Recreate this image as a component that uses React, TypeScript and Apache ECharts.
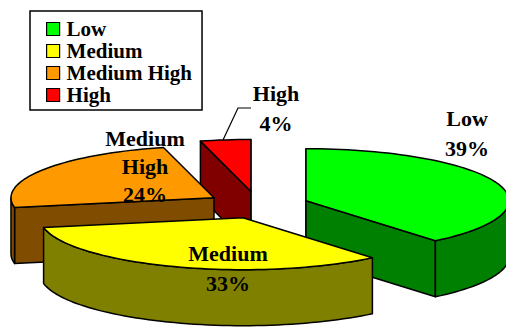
import React, { useEffect, useRef } from "react";
import * as echarts from "echarts";

// Share of each risk band, in percent.
const categories = ["Low", "Medium", "Medium High", "High"];
const shares = [39, 33, 24, 4];
const faceColors = ["#00FF00", "#FFFF00", "#FF9900", "#FF0000"];
const sideColors = ["#008000", "#808000", "#804D00", "#800000"];

// Projection of the tilted pie.
const CENTER_X = 257;
const CENTER_Y = 206;
const RADIUS_X = 203;
const RADIUS_Y = 52;
const EXPLODE_Y = 61;
const DEPTH = 56;
const OUTLINE = 1.5;
const explode = [0.2565, 0.2035, 0.251, 0.24];
const stackOrder = [1, 3, 2, 1];

// Label lines are anchored by hand around the pie.
const labelAnchors: [number, number][] = [
  [467, 133],
  [228, 268],
  [145, 166],
  [276, 108],
];

const FONT = "'Liberation Serif', 'Times New Roman', serif";
const total = shares.reduce((sum, v) => sum + v, 0);
const rad = (deg: number) => (deg * Math.PI) / 180;

function renderSlice(index: number) {
  return (_params: unknown, api: any) => {
    const before = shares.slice(0, index).reduce((sum, v) => sum + v, 0);
    const start = (before / total) * 360;
    const end = start + (api.value(0) / total) * 360;
    const mid = rad((start + end) / 2);
    const ax = CENTER_X + explode[index] * RADIUS_X * Math.sin(mid);
    const ay = CENTER_Y - explode[index] * EXPLODE_Y * Math.cos(mid);
    const rim = (deg: number, drop = 0): number[] => [
      ax + RADIUS_X * Math.sin(rad(deg)),
      ay - RADIUS_Y * Math.cos(rad(deg)) + drop,
    ];
    const arc = (from: number, to: number, drop = 0) => {
      const steps = Math.max(2, Math.ceil((to - from) / 2));
      const out: number[][] = [];
      for (let i = 0; i <= steps; i++) out.push(rim(from + ((to - from) * i) / steps, drop));
      return out;
    };
    const poly = (points: number[][], fill: string) => ({
      type: "polygon",
      shape: { points },
      style: { fill, stroke: "#000", lineWidth: OUTLINE, lineJoin: "round" },
    });
    const side = sideColors[index];
    const children: any[] = [];
    const radialFace = (deg: number) =>
      poly([[ax, ay], rim(deg), rim(deg, DEPTH), [ax, ay + DEPTH]], side);
    if (Math.sin(rad(start)) < 1e-6) children.push(radialFace(start));
    if (Math.sin(rad(end)) > -1e-6) children.push(radialFace(end));
    const wallFrom = Math.max(start, 90);
    const wallTo = Math.min(end, 270);
    if (wallTo > wallFrom) {
      children.push(
        poly([...arc(wallFrom, wallTo), ...arc(wallFrom, wallTo, DEPTH).reverse()], side)
      );
    }
    children.push(poly([[ax, ay], ...arc(start, end)], faceColors[index]));
    return { type: "group", children };
  };
}

export default function App() {
  const ref = useRef<HTMLDivElement>(null);

  useEffect(() => {
    document.body.style.margin = "0";
    const chart = echarts.init(ref.current!, undefined, { renderer: "svg" });
    chart.setOption({
      animation: false,
      backgroundColor: "#fff",
      legend: {
        show: true,
        data: categories,
        orient: "vertical",
        left: 30,
        top: 11,
        padding: [7, 10, 4, 16],
        itemGap: 0,
        itemWidth: 13,
        itemHeight: 13,
        icon: "rect",
        selectedMode: false,
        borderColor: "#000",
        borderWidth: 1.5,
        itemStyle: { borderColor: "#000", borderWidth: 1.2 },
        textStyle: {
          fontFamily: FONT,
          fontWeight: "bold",
          fontSize: 21,
          color: "#000",
          lineHeight: 22,
          padding: [0, 0, 0, 2],
        },
      },
      series: categories.map((name, i) => ({
        type: "custom",
        name,
        coordinateSystem: "none",
        silent: true,
        z: stackOrder[i],
        itemStyle: { color: faceColors[i] },
        data: [[shares[i]]],
        renderItem: renderSlice(i),
      })),
      graphic: [
        {
          type: "polyline",
          z: 20,
          shape: { points: [[251, 108], [238, 108], [223, 140]] },
          style: { stroke: "#000", lineWidth: 1.2, fill: "none" },
        },
        ...categories.map((name, i) => ({
          type: "text",
          z: 20,
          x: labelAnchors[i][0],
          y: labelAnchors[i][1],
          style: {
            text: `${name.replace(" ", "\n")}\n${shares[i]}%`,
            fontFamily: FONT,
            fontWeight: "bold",
            fontSize: 22,
            lineHeight: i === 2 ? 28 : 30,
            fill: "#000",
            align: "center",
            verticalAlign: "middle",
          },
        })),
      ],
    });
    return () => chart.dispose();
  }, []);

  return <div ref={ref} style={{ width: 506, height: 327, overflow: "hidden" }} />;
}
